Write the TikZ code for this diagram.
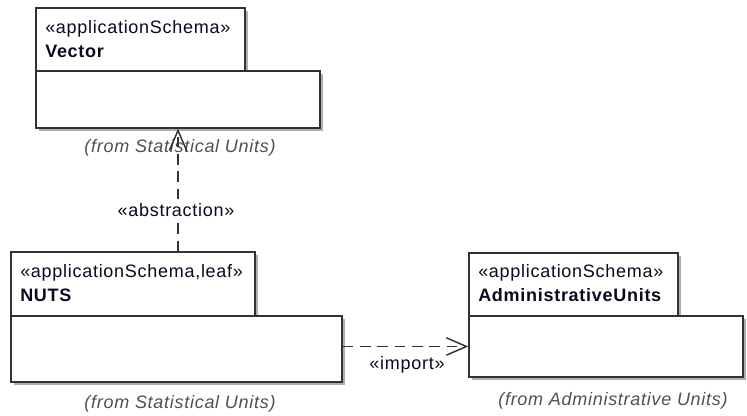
\documentclass[tikz,border=0pt]{standalone}
\usepackage{fontspec}
\setmainfont[LetterSpace=4]{Liberation Sans}
\usepackage{tikz}
\usetikzlibrary{fit}
\usetikzlibrary{arrows.meta}
\usetikzlibrary{shadows}
\usepackage{xcolor}
\definecolor{ColWhite}{RGB}{255,255,255}
\definecolor{ColLine}{RGB}{50,50,50}
\definecolor{ColShadow}{RGB}{175,175,175}
\definecolor{ColText}{RGB}{10,10,30}
\definecolor{ColFrom}{RGB}{80,80,80}
\tikzstyle{PkgBox}=[rectangle,draw=ColLine,fill=ColWhite,line width=1.1pt,inner sep=0pt,
drop shadow={shadow xshift=2.2pt,shadow yshift=-2.2pt,fill=ColShadow,opacity=1}]
\tikzstyle{PkgText}=[anchor=north west,inner sep=0pt,align=left,text=ColText,
font=\fontsize{13.5}{18}\selectfont]
\tikzstyle{FromText}=[text=ColFrom,font=\fontsize{13.5}{15}\selectfont\itshape]
\tikzstyle{DepLabel}=[text=ColText,font=\fontsize{13.5}{15}\selectfont,inner sep=1pt]
\tikzstyle{DepEdge}=[ColLine,line width=1.1pt,dash pattern=on 8pt off 5pt,
-{Straight Barb[length=15pt,width=13pt,line width=1.1pt]}]

\begin{document}
\begin{tikzpicture}[x=0.75pt,y=-0.75pt]
        \useasboundingbox(0,0)rectangle(747,416);
        % Vector
        \node[PkgBox,fit={(36,8)(245,71)}](VectorTab){};
        \node[PkgBox,fit={(36,71)(320,128)}](VectorBody){};
        \node[PkgText](VectorName)at(45,20){«applicationSchema»\\\textbf{Vector}};
        \node[FromText](VectorFrom)at(180,148){(from Statistical Units)};
        % NUTS
        \node[PkgBox,fit={(11,252)(255,316)}](NUTSTab){};
        \node[PkgBox,fit={(11,316)(342,382)}](NUTSBody){};
        \node[PkgText](NUTSName)at(20,264){«applicationSchema,leaf»\\\textbf{NUTS}};
        \node[FromText](NUTSFrom)at(180,404){(from Statistical Units)};
        % AdministrativeUnits
        \node[PkgBox,fit={(469,253)(678,316)}](AdminTab){};
        \node[PkgBox,fit={(469,316)(743,377)}](AdminBody){};
        \node[PkgText](AdminName)at(478,264){«applicationSchema»\\\textbf{AdministrativeUnits}};
        \node[FromText](AdminFrom)at(613,401){(from Administrative Units)};
        % dependencies
        \draw[DepEdge](VectorBody.south|-NUTSTab.north)--(VectorBody.south);
        \node[DepLabel,fill=ColWhite](Abstraction)at(176,210){«abstraction»};
        \draw[DepEdge](NUTSBody.east|-AdminBody.west)--(AdminBody.west);
        \node[DepLabel](Import)at(407,365){«import»};
    \end{tikzpicture}
\end{document}
